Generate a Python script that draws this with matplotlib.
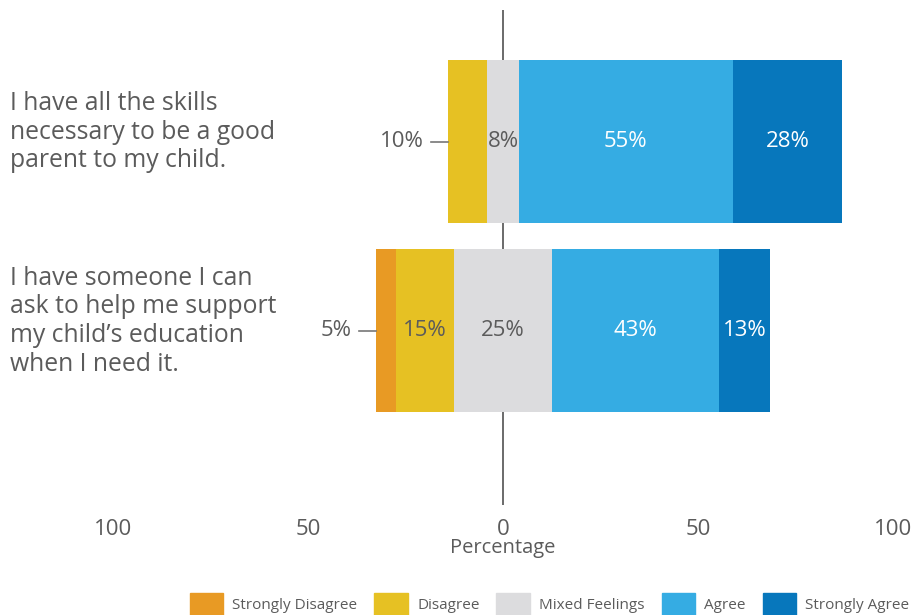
import numpy as np
import matplotlib
matplotlib.use("Agg")
import matplotlib.pyplot as plt
import matplotlib.transforms as mtransforms

# survey statements (top to bottom)
questions = [
    "I have all the skills\nnecessary to be a good\nparent to my child.",
    "I have someone I can\nask to help me support\nmy child\u2019s education\nwhen I need it.",
]
categories = ["Strongly Disagree", "Disagree", "Mixed Feelings", "Agree", "Strongly Agree"]
strongly_disagree = [0, 5]
disagree = [10, 15]
mixed = [8, 25]
agree = [55, 43]
strongly_agree = [28, 13]

colors = ["#E89A24", "#E6C123", "#DCDCDE", "#35ACE3", "#0777BC"]
text_grey = "#5b5b5b"

tick_vals = [-100, -50, 0, 50, 100]
tick_labels = ["100", "50", "0", "50", "100"]

plt.rcParams["font.family"] = ["Open Sans", "DejaVu Sans"]

fig = plt.figure(figsize=(9.19, 6.15), dpi=100)
ax = fig.add_axes([113 / 919, 1 - 505 / 615, 780 / 919, 495 / 615])

ypos = [1, 0]
bar_h = 0.862
series = [strongly_disagree, disagree, mixed, agree, strongly_agree]

for i, y in enumerate(ypos):
    vals = [s[i] for s in series]
    left = -(vals[0] + vals[1] + vals[2] / 2)
    starts = []
    x = left
    for j, v in enumerate(vals):
        ax.barh(y, v, left=x, height=bar_h, color=colors[j], zorder=2)
        starts.append(x)
        x += v
    # labels: first visible segment goes outside with a leader line
    first = next(j for j, v in enumerate(vals) if v > 0)
    for j, v in enumerate(vals):
        if v <= 0:
            continue
        if j == first:
            ax.plot([left - 4.4, left], [y, y], color="#777777", lw=1.2, zorder=3)
            ax.text(left - 6.3, y, f"{v}%", ha="right", va="center",
                    fontsize=16, color=text_grey)
        else:
            c = "white" if j >= 3 else text_grey
            ax.text(starts[j] + v / 2, y, f"{v}%", ha="center", va="center",
                    fontsize=16, color=c, zorder=4)

ax.axvline(0, color="#6a6a6a", lw=1.4, zorder=1)

ax.set_xlim(-100, 100)
ax.set_ylim(-0.923, 1.696)
ax.set_xticks(tick_vals)
ax.set_xticklabels(tick_labels, fontsize=16, color=text_grey)
ax.tick_params(axis="x", length=0, pad=10)
ax.set_yticks([])
ax.set_xlabel("Percentage", fontsize=14.5, color=text_grey, labelpad=-1)
for s in ax.spines.values():
    s.set_visible(False)

# statements on the left
trans = mtransforms.blended_transform_factory(fig.transFigure, ax.transData)
for q, y in zip(questions, ypos):
    ax.text(10 / 919, y + 0.05, q, transform=trans, ha="left", va="center",
            fontsize=17.8, color=text_grey, linespacing=1.19)

handles = [plt.Rectangle((0, 0), 1, 1, color=c) for c in colors]
fig.legend(handles, categories, loc="lower center", ncol=5, frameon=False,
           bbox_to_anchor=(0.598, -0.012), fontsize=11, handlelength=2.2,
           handleheight=1.8, columnspacing=1.1, handletextpad=0.6,
           labelcolor=text_grey, borderpad=0)

fig.savefig("out.png", dpi=100)
